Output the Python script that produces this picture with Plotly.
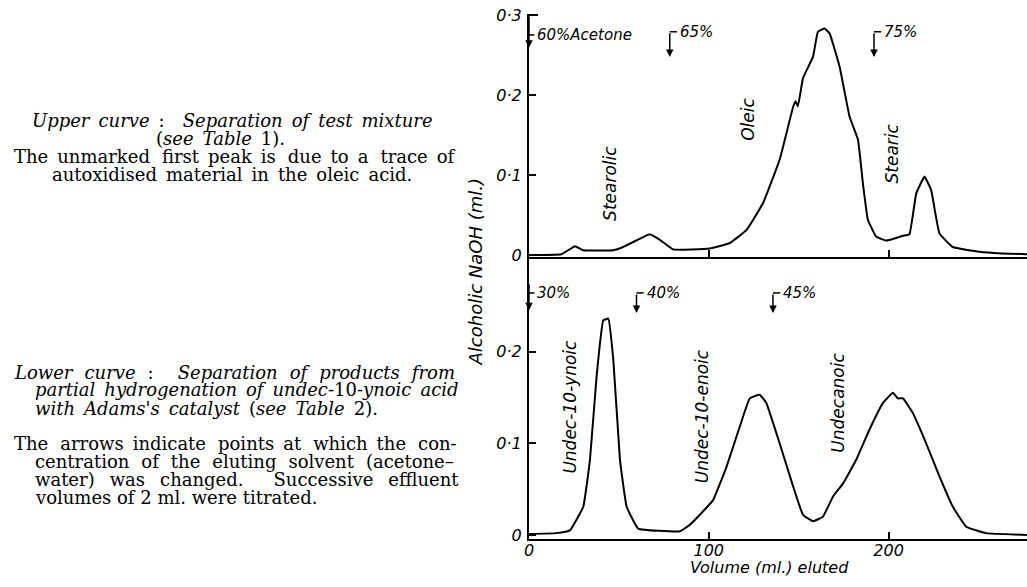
import plotly.graph_objects as go

# ---------------- data ----------------
vol_upper = [0, 18, 25.6, 30, 46.9, 52.4, 67.2, 72.8, 80.2, 100.5, 111.7, 120.9,
             130.2, 139.4, 146.9, 148.3, 149.6, 152.4, 158, 160.7, 164.4, 167.2,
             172.8, 178.3, 183, 185.7, 188.5, 193.1, 198.7, 208, 211.6, 215.4,
             220, 223.7, 228.3, 235.7, 250.6, 263, 277]
naoh_upper = [0.0, 0.001, 0.011, 0.006, 0.006, 0.010, 0.026, 0.019, 0.007, 0.008,
              0.015, 0.031, 0.065, 0.119, 0.185, 0.192, 0.186, 0.221, 0.248, 0.279,
              0.283, 0.277, 0.235, 0.173, 0.144, 0.090, 0.044, 0.023, 0.018, 0.024,
              0.026, 0.077, 0.098, 0.081, 0.027, 0.010, 0.004, 0.002, 0.001]

vol_lower = [0, 15, 22.8, 30.2, 33.9, 37.6, 41.3, 44.1, 46.9, 50.6, 54.3, 60.7,
             83.9, 89.4, 95, 102.4, 109.8, 117.2, 122.8, 128.3, 132, 139.4, 146.9,
             152.4, 158, 163.5, 169.1, 174.6, 182, 189.4, 196.9, 202.4, 205.2, 208,
             213.5, 220.9, 228.3, 235.7, 243.2, 254.3, 277]
naoh_lower = [0.001, 0.002, 0.005, 0.031, 0.082, 0.173, 0.234, 0.236, 0.191, 0.082,
              0.031, 0.007, 0.004, 0.011, 0.022, 0.038, 0.074, 0.118, 0.149, 0.153,
              0.144, 0.100, 0.053, 0.022, 0.015, 0.020, 0.042, 0.056, 0.082, 0.115,
              0.144, 0.155, 0.149, 0.149, 0.133, 0.100, 0.064, 0.031, 0.009, 0.002, 0.0]

x_tickvals = [0, 100, 200]
x_ticktext = ["0", "100", "200"]
y_upper_tickvals = [0, 0.1, 0.2, 0.3]
y_upper_ticktext = ["0", "0·1", "0·2", "0·3"]
y_lower_tickvals = [0, 0.1, 0.2]
y_lower_ticktext = ["0", "0·1", "0·2"]

upper_peaks = ["Stearolic", "Oleic", "Stearic"]
upper_peak_x = [45, 121.7, 202]
upper_peak_y = [0.09, 0.17, 0.127]
lower_peaks = ["Undec-10-ynoic", "Undec-10-enoic", "Undecanoic"]
lower_peak_x = [22.8, 96, 171.7]
lower_peak_y = [0.14, 0.129, 0.144]

upper_solvent = ["65%", "75%"]
upper_solvent_x = [78.3, 191.9]
lower_solvent = ["40%", "45%"]
lower_solvent_x = [59.8, 135.7]

caption_upper = ["<i>Upper curve</i> :  <i>Separation of test mixture</i>",
                 "(<i>see Table</i> 1)."]
note_upper = ["The unmarked first peak is due to a trace of",
              "autoxidised material in the oleic acid."]
caption_lower = ["<i>Lower curve</i> :  <i>Separation of products from</i>",
                 "<i>partial hydrogenation of undec</i>-10-<i>ynoic acid</i>",
                 "<i>with Adams's catalyst</i> (<i>see Table</i> 2)."]
note_lower = ["The arrows indicate points at which the con-",
              "centration of the eluting solvent (acetone–",
              "water) was changed.  Successive effluent",
              "volumes of 2 ml. were titrated."]

# ---------------- geometry ----------------
W, H = 1027, 587
L, R, T, B = 529, 0, 0, 42
PW, PH = W - L - R, H - T - B


def xp(px):
    return (px - L) / PW


def yp(py):
    return (PH + T - py) / PH


HAND = dict(family="DejaVu Sans", size=15, color="black", style="italic")
LABEL = dict(HAND, size=17)
TICK = dict(HAND, size=16)
SERIF = dict(family="DejaVu Serif", size=18, color="black")
EN, SIX = "\u2002", "\u2006"

fig = go.Figure()
fig.add_trace(go.Scatter(x=vol_upper, y=naoh_upper, mode="lines",
                         line=dict(color="black", width=2, shape="spline", smoothing=0.3),
                         xaxis="x2", yaxis="y2", showlegend=False, hoverinfo="skip"))
fig.add_trace(go.Scatter(x=vol_lower, y=naoh_lower, mode="lines",
                         line=dict(color="black", width=2, shape="spline", smoothing=0.3),
                         xaxis="x", yaxis="y", showlegend=False, hoverinfo="skip"))

axis_common = dict(showgrid=False, zeroline=False, showline=True, linecolor="black",
                   linewidth=2, ticks="inside", ticklen=7, tickwidth=1.5,
                   tickcolor="black", tickfont=TICK, automargin=False)

fig.update_layout(
    width=W, height=H, margin=dict(l=L, r=R, t=T, b=B, autoexpand=False),
    paper_bgcolor="white", plot_bgcolor="white",
    xaxis=dict(axis_common, domain=[0, 1], range=[0, 277], anchor="y",
               tickvals=x_tickvals, ticktext=x_ticktext, ticklabelstandoff=-4),
    xaxis2=dict(axis_common, domain=[0, 1], range=[0, 277], anchor="y2",
                tickvals=x_tickvals[1:], showticklabels=False, matches="x"),
    yaxis=dict(axis_common, domain=[yp(539), yp(257)], range=[-0.0044, 0.3032],
               tickvals=y_lower_tickvals, ticktext=y_lower_ticktext, anchor="x",
               ticklabelstandoff=2),
    yaxis2=dict(axis_common, domain=[yp(257), yp(14)], range=[-0.0025, 0.3012],
                tickvals=y_upper_tickvals, ticktext=y_upper_ticktext, anchor="x2",
                ticklabelstandoff=2),
)

ann = []
for name, x, y in zip(upper_peaks, upper_peak_x, upper_peak_y):
    ann.append(dict(x=x, y=y, xref="x2", yref="y2", text=name, textangle=-90,
                    showarrow=False, font=LABEL))
for name, x, y in zip(lower_peaks, lower_peak_x, lower_peak_y):
    ann.append(dict(x=x, y=y, xref="x", yref="y", text=name, textangle=-90,
                    showarrow=False, font=LABEL))

shapes = []
up_top, up_bot = 0.279, 0.2475
for name, x in zip(upper_solvent, upper_solvent_x):
    ann.append(dict(x=x, y=up_bot, xref="x2", yref="y2", ax=x, ay=up_top,
                    axref="x2", ayref="y2", text="", showarrow=True, arrowhead=2,
                    arrowsize=1, arrowwidth=1.5, arrowcolor="black"))
    shapes.append(dict(type="line", xref="x2", yref="y2", x0=x, x1=x + 4,
                       y0=up_top, y1=up_top, line=dict(color="black", width=1.5)))
    ann.append(dict(x=x + 4.5, y=up_top, xref="x2", yref="y2", text=name,
                    xanchor="left", showarrow=False, font=HAND))
ann.append(dict(x=0, y=0.259, xref="x2", yref="y2", ax=0, ay=0.3, axref="x2",
                ayref="y2", text="", showarrow=True, arrowhead=2, arrowsize=1,
                arrowwidth=1.5, arrowcolor="black"))
shapes.append(dict(type="line", xref="x2", yref="y2", x0=0, x1=5, y0=0.3, y1=0.3,
                   line=dict(color="black", width=2)))
shapes.append(dict(type="line", xref="x2", yref="y2", x0=0, x1=3, y0=0.275, y1=0.275,
                   line=dict(color="black", width=1.5)))
ann.append(dict(x=3.3, y=0.275, xref="x2", yref="y2", text="60%Acetone",
                xanchor="left", showarrow=False, font=HAND))

lo_top, lo_bot = 0.264, 0.242
for name, x in zip(lower_solvent, lower_solvent_x):
    ann.append(dict(x=x, y=lo_bot, xref="x", yref="y", ax=x, ay=lo_top,
                    axref="x", ayref="y", text="", showarrow=True, arrowhead=2,
                    arrowsize=1, arrowwidth=1.5, arrowcolor="black"))
    shapes.append(dict(type="line", xref="x", yref="y", x0=x, x1=x + 4,
                       y0=lo_top, y1=lo_top, line=dict(color="black", width=1.5)))
    ann.append(dict(x=x + 4.5, y=lo_top, xref="x", yref="y", text=name,
                    xanchor="left", showarrow=False, font=HAND))
ann.append(dict(x=0, y=0.245, xref="x", yref="y", ax=0, ay=0.275, axref="x",
                ayref="y", text="", showarrow=True, arrowhead=2, arrowsize=1,
                arrowwidth=1.5, arrowcolor="black"))
shapes.append(dict(type="line", xref="x", yref="y", x0=0, x1=3, y0=0.264, y1=0.264,
                   line=dict(color="black", width=1.5)))
ann.append(dict(x=3.3, y=0.264, xref="x", yref="y", text="30%",
                xanchor="left", showarrow=False, font=HAND))

ann.append(dict(x=xp(487), y=yp(272), xref="paper", yref="paper",
                text="Alcoholic NaOH (ml.)", textangle=-90, showarrow=False,
                xanchor="right", font=dict(HAND, size=18)))
ann.append(dict(x=xp(769), y=yp(579), xref="paper", yref="paper",
                text="Volume (ml.) eluted", showarrow=False, font=dict(HAND, size=16)))


def line(text, px, py, anchor="left", pad=0, plain=False):
    """Place one typeset line; `pad` six-per-em spaces are spread over the gaps."""
    words = text.split(" ")
    n = len(words) - 1
    extra = [0] * n
    for i in range(pad):
        extra[int((i + 0.5) * n / pad) % n] += 1
    out = words[0]
    for i, w in enumerate(words[1:]):
        gap = " " if plain else EN + SIX * extra[i]
        out += gap + w
    ann.append(dict(x=xp(px), y=yp(py), xref="paper", yref="paper",
                    text=out, xanchor=anchor, yanchor="middle",
                    showarrow=False, font=SERIF))


line(caption_upper[0], 232, 121, "center")
line(caption_upper[1], 220, 138, "center")
line(note_upper[0], 12, 157, pad=3)
line(note_upper[1], 232, 174, "center")
line(caption_lower[0], 12, 372, pad=7)
line(caption_lower[1], 33, 390)
line(caption_lower[2], 33, 408)
line(note_lower[0], 12, 443, pad=4)
line(note_lower[1], 33, 461, pad=5)
line(note_lower[2], 33, 479, pad=10)
line(note_lower[3], 33, 497, plain=True)

fig.update_layout(annotations=ann, shapes=shapes)
fig.write_html("out.html", config={"displayModeBar": False},
               post_script="document.body.style.margin='0px';")
